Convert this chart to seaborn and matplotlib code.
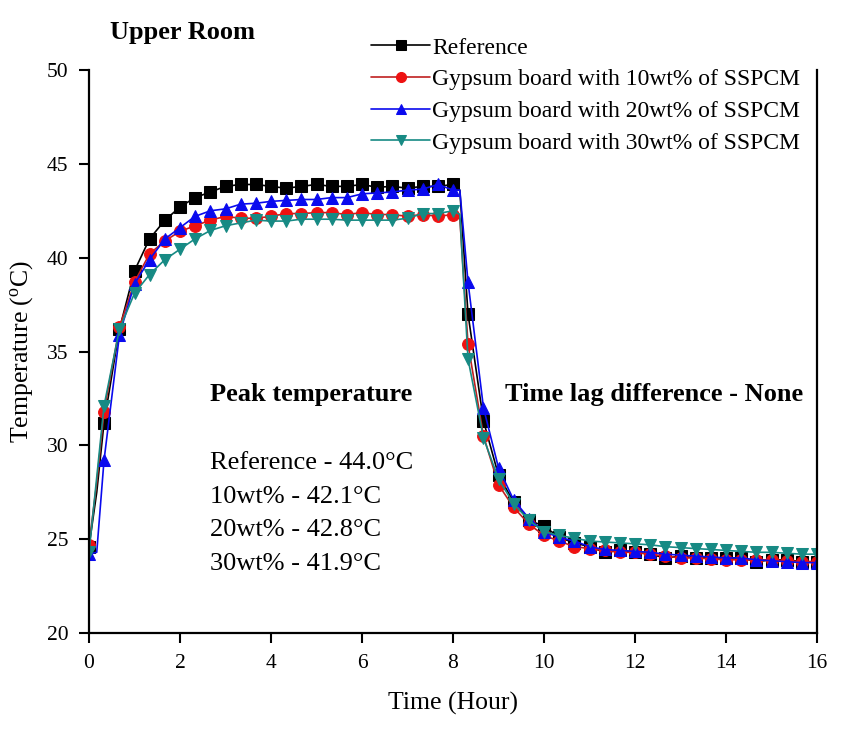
import numpy as np
import pandas as pd
import matplotlib
matplotlib.use("Agg")
import matplotlib.pyplot as plt
import seaborn as sns

# ---------------- data ----------------
hours = [0.0, 0.17, 0.33, 0.67, 1.0, 1.33, 1.67, 2.0, 2.33, 2.67, 3.0, 3.33, 3.67,
         4.0, 4.33, 4.67, 5.0, 5.33, 5.67, 6.0, 6.33, 6.67, 7.0, 7.33, 7.67,
         8.0, 8.15, 8.33, 8.67, 9.0, 9.33, 9.67, 10.0, 10.33, 10.67, 11.0, 11.33,
         11.67, 12.0, 12.33, 12.67, 13.0, 13.33, 13.67, 14.0, 14.33, 14.67,
         15.0, 15.33, 15.67, 16.0]

reference = [24.6, 27.5, 31.2, 36.2, 39.3, 41.0, 42.0, 42.7, 43.2, 43.5, 43.8, 43.9, 43.9,
             43.8, 43.7, 43.8, 43.9, 43.8, 43.8, 43.9, 43.75, 43.8, 43.7, 43.8, 43.8,
             43.9, 43.6, 37.0, 31.3, 28.4, 27.0, 26.0, 25.7, 25.1, 24.8, 24.6, 24.3,
             24.4, 24.3, 24.2, 24.0, 24.1, 24.0, 24.0, 24.0, 24.0, 23.8,
             23.9, 23.9, 23.8, 23.8]

wt10 = [24.7, 28.0, 31.8, 36.3, 38.7, 40.2, 40.9, 41.4, 41.7, 42.0, 42.2, 42.1, 42.1,
        42.2, 42.35, 42.35, 42.4, 42.4, 42.3, 42.4, 42.3, 42.3, 42.2, 42.3, 42.2,
        42.3, 42.1, 35.4, 30.5, 27.9, 26.7, 25.8, 25.2, 24.9, 24.6, 24.5, 24.4,
        24.3, 24.3, 24.2, 24.1, 24.0, 24.0, 23.95, 23.9, 23.9, 23.9,
        23.9, 23.85, 23.8, 23.8]

wt20 = [24.2, 24.3, 29.2, 35.9, 38.6, 39.9, 41.0, 41.6, 42.2, 42.5, 42.6, 42.85, 42.9,
        43.0, 43.05, 43.1, 43.1, 43.2, 43.2, 43.4, 43.45, 43.5, 43.6, 43.65, 43.9,
        43.6, 43.6, 38.7, 32.0, 28.8, 27.1, 26.1, 25.4, 25.1, 24.9, 24.6, 24.45,
        24.4, 24.35, 24.3, 24.2, 24.15, 24.1, 24.05, 24.0, 24.0, 23.9,
        23.85, 23.8, 23.75, 23.75]

wt30 = [24.3, 28.3, 32.1, 36.2, 38.1, 39.1, 39.9, 40.45, 41.0, 41.45, 41.7, 41.85, 42.0,
        41.95, 41.95, 42.05, 42.05, 42.05, 42.0, 42.0, 42.0, 42.0, 42.1, 42.35, 42.35,
        42.5, 42.3, 34.6, 30.4, 28.2, 26.9, 26.0, 25.4, 25.2, 25.05, 24.9, 24.85,
        24.8, 24.75, 24.7, 24.6, 24.55, 24.5, 24.45, 24.4, 24.35, 24.3,
        24.3, 24.25, 24.2, 24.2]

series_names = ["Reference",
                "Gypsum board with 10wt% of SSPCM",
                "Gypsum board with 20wt% of SSPCM",
                "Gypsum board with 30wt% of SSPCM"]

peak_lines = ["Reference - 44.0\u00b0C", "10wt% - 42.1\u00b0C",
              "20wt% - 42.8\u00b0C", "30wt% - 41.9\u00b0C"]

x_ticks = [0, 2, 4, 6, 8, 10, 12, 14, 16]
y_ticks = [20, 25, 30, 35, 40, 45, 50]

# ---------------- style ----------------
sns.set_theme(style="ticks")
plt.rcParams["font.family"] = ["Liberation Serif", "DejaVu Serif"]
plt.rcParams["mathtext.fontset"] = "custom"
plt.rcParams["mathtext.rm"] = "Liberation Serif"
plt.rcParams["mathtext.it"] = "Liberation Serif:italic"
plt.rcParams["text.color"] = "black"
plt.rcParams["axes.labelcolor"] = "black"

colors = ["#000000", "#ee1111", "#0a0aee", "#178a84"]
line_colors = ["#000000", "#c02020", "#0a0aee", "#178a84"]
markers = ["s", "o", "^", "v"]

fig = plt.figure(figsize=(8.57, 7.35), dpi=100)
ax = fig.add_axes([89 / 857, 1 - 633 / 735, (817 - 89) / 857, (633 - 70) / 735])

# marker positions: every data point except the interpolation corners
mark_idx = [i for i, h in enumerate(hours) if h not in (0.17, 8.15)]

for name, vals, c, lc, m in zip(series_names, [reference, wt10, wt20, wt30],
                                colors, line_colors, markers):
    df = pd.DataFrame({"Time": hours, "Temp": vals})
    sns.lineplot(data=df, x="Time", y="Temp", ax=ax, color=lc, linewidth=1.2,
                 marker=m, markersize=8.5, markerfacecolor=c, markeredgecolor=c,
                 markevery=mark_idx, label=name, legend=False, sort=False)

ax.set_xlim(0, 16)
ax.set_ylim(20, 50)
ax.set_xticks(x_ticks)
ax.set_yticks(y_ticks)
ax.tick_params(axis="both", direction="out", length=7, width=1.5,
               labelsize=15.5, colors="black", pad=8)
ax.tick_params(axis="y", right=False)
for s in ["left", "bottom", "right"]:
    ax.spines[s].set_linewidth(1.6)
    ax.spines[s].set_color("#000000")
ax.spines["top"].set_visible(False)

ax.set_xlabel("Time (Hour)", fontsize=18.5, labelpad=14)
ax.set_ylabel(r"Temperature ($\mathregular{^{o}}$C)", fontsize=18.5, labelpad=8)

# annotations
ax.text(0.166, 0.423, "Peak temperature", transform=ax.transAxes,
        fontsize=19, fontweight="bold", va="center", ha="left")
ax.text(0.571, 0.423, "Time lag difference - None", transform=ax.transAxes,
        fontsize=19, fontweight="bold", va="center", ha="left")
for yy, txt in zip([0.302, 0.242, 0.183, 0.123], peak_lines):
    ax.text(0.166, yy, txt, transform=ax.transAxes, fontsize=19,
            va="center", ha="left")

fig.text(110 / 857, 1 - 32 / 735, "Upper Room", fontsize=19, fontweight="bold",
         va="center", ha="left")

handles, labels = ax.get_legend_handles_labels()
fig.legend(handles, labels, loc="upper left",
           bbox_to_anchor=(371 / 857, 1 - 37 / 735), frameon=False,
           fontsize=17, handlelength=2.5, handletextpad=0.1,
           labelspacing=0.43, borderpad=0, borderaxespad=0, markerscale=0.85)

fig.savefig("out.png", dpi=100, facecolor="white")
